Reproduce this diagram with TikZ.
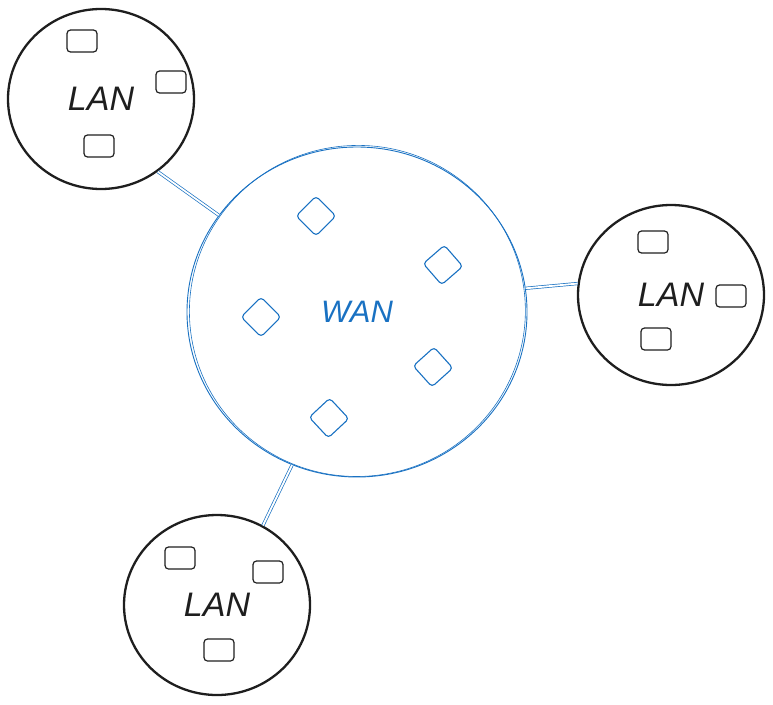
\documentclass[tikz,border=0pt]{standalone}
\usepackage{fontspec}
\setmainfont{Liberation Sans}
\usetikzlibrary{shapes.geometric}
\definecolor{xblue}{HTML}{1971C2}
\definecolor{xdark}{HTML}{1E1E1E}
\begin{document}
\begin{tikzpicture}[x=1pt,y=-1pt,
  lanc/.style={ellipse,draw=xdark,line width=2.3pt,inner sep=0pt,
     minimum width=186pt,minimum height=180pt,
     font=\fontsize{34}{36}\selectfont\itshape,text=xdark},
  wanc/.style={ellipse,draw=xblue,line width=0.9pt,inner sep=0pt,
     minimum width=340pt,minimum height=330pt,
     font=\fontsize{31}{33}\selectfont\itshape,text=xblue},
  host/.style={rectangle,draw=xdark,line width=1.2pt,rounded corners=3.5pt,
     minimum width=30pt,minimum height=22pt,inner sep=0pt},
  router/.style={rectangle,draw=xblue,line width=1.1pt,rounded corners=3.5pt,
     minimum width=28pt,minimum height=28pt,inner sep=0pt,rotate=45},
  link/.style={draw=xblue,line width=0.7pt,double=white,double distance=1.8pt}]
\useasboundingbox (0,0) rectangle (773,704);

% WAN
\node[wanc] (wan) at (357,312) {WAN};
\draw[xblue,line width=0.6pt,rotate around={6:(357,312)}] (357.5,311) ellipse [x radius=168pt,y radius=165.5pt];
\node[router] (r1) at (316,216) {};
\node[router,rotate=-4] (r2) at (443,265) {};
\node[router] (r3) at (261,317) {};
\node[router,rotate=-3] (r4) at (433,367) {};
\node[router,rotate=-2] (r5) at (329,418) {};

% LANs
\node[lanc] (lanA) at (101,99) {LAN};
\node[lanc] (lanB) at (671,295) {LAN};
\node[lanc] (lanC) at (217,605) {LAN};

% hosts
\node[host] (a1) at (82,41) {};
\node[host] (a2) at (171,82) {};
\node[host] (a3) at (99,146) {};
\node[host] (b1) at (653,242) {};
\node[host] (b2) at (731,296) {};
\node[host] (b3) at (656,339) {};
\node[host] (c1) at (180,558) {};
\node[host] (c2) at (268,572) {};
\node[host] (c3) at (219,650) {};

% links
\draw[link] (lanA.-52) -- (wan.145);
\draw[link] (wan.8) -- (lanB.173);
\draw[link] (wan.-113) -- (lanC.60);
\end{tikzpicture}
\end{document}
